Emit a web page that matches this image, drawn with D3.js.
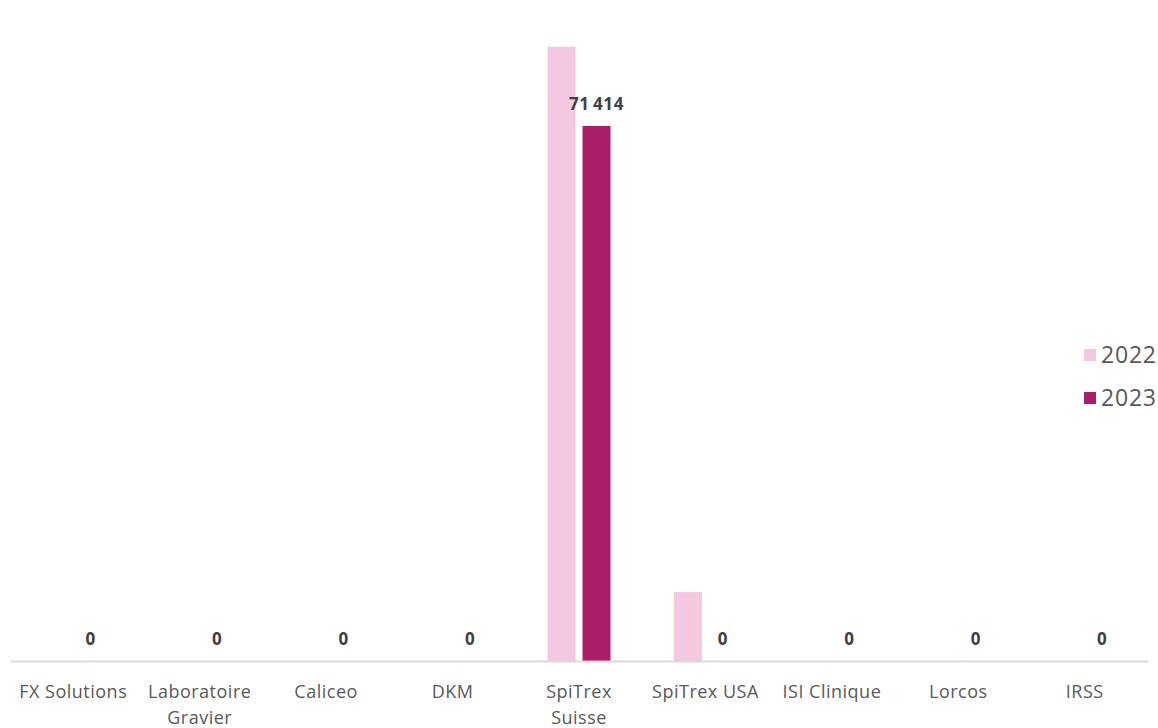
<!DOCTYPE html>
<html><head><meta charset="utf-8">
<script src="https://cdn.jsdelivr.net/npm/d3@7"></script>
<style>body{margin:0;background:#fff}svg{display:block;font-family:"Open Sans","Noto Sans",sans-serif}</style>
</head><body>
<svg id="c" width="1158" height="728"></svg>
<script>
const categories = ["FX Solutions","Laboratoire Gravier","Caliceo","DKM","SpiTrex Suisse","SpiTrex USA","ISI Clinique","Lorcos","IRSS"];
const series = ["2022","2023"];
const values2022 = [0,0,0,0,82000,9200,0,0,0];
const values2023 = [0,0,0,0,71414,0,0,0,0];
const colors = ["#f4c8e1","#a81f67"];

const svg = d3.select("#c");
const x0 = d3.scaleBand().domain(categories).range([10,1148]).padding(0);
const y = d3.scaleLinear().domain([0,90000]).range([661,661-90000*(535/71414)]);
const barW = 28, gap = 7;
const offsets = [-(gap/2+barW), gap/2];
const data = [values2022, values2023];

data.forEach((vals,s)=>{
  svg.append("g").selectAll("rect").data(categories).join("rect")
    .attr("x",(d)=>x0(d)+x0.bandwidth()/2+offsets[s])
    .attr("width",barW)
    .attr("y",(d,i)=>y(vals[i]))
    .attr("height",(d,i)=>y(0)-y(vals[i]))
    .attr("fill",colors[s]);
});

// axis
const ax = svg.append("g").attr("transform","translate(0,661)")
  .call(d3.axisBottom(x0).tickSize(0).tickPadding(0));
ax.select(".domain").attr("stroke","#d9d9d9").attr("stroke-width",2);
ax.selectAll(".tick text").remove();
ax.selectAll(".tick").each(function(d){
  const g = d3.select(this);
  const words = d.split(" ");
  let lines = [d];
  if (d==="Laboratoire Gravier"||d==="SpiTrex Suisse") lines = [words[0], words.slice(1).join(" ")];
  lines.forEach((l,i)=>{
    g.append("text").attr("y",37+i*26).attr("text-anchor","middle")
      .attr("fill","#595959").attr("font-size",18).attr("letter-spacing",0.5)
      .attr("font-family","'Open Sans','Noto Sans',sans-serif").text(l);
  });
});

// labels for 2023
svg.append("g").selectAll("text").data(categories).join("text")
  .attr("x",d=>x0(d)+x0.bandwidth()/2+offsets[1]+barW/2)
  .attr("y",(d,i)=>y(values2023[i])-16)
  .attr("text-anchor","middle").attr("font-weight","bold").attr("font-size",17)
  .attr("letter-spacing",0.6)
  .attr("fill","#404040")
  .text((d,i)=>d3.format(",")(values2023[i]).replace(/,/g,"\u2009"));

// legend
const lg = svg.append("g");
series.forEach((s,i)=>{
  lg.append("rect").attr("x",1084).attr("y",349+i*43).attr("width",12).attr("height",12).attr("fill",colors[i]);
  lg.append("text").attr("x",1101).attr("y",363+i*43).attr("font-size",23).attr("letter-spacing",0.8).attr("fill","#595959").text(s);
});
</script>
</body></html>
